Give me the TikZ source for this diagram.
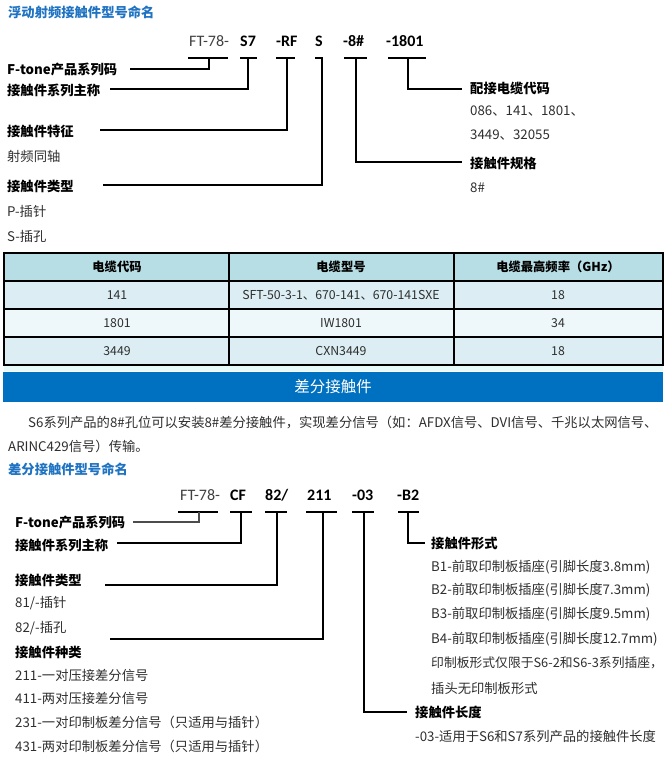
\documentclass[tikz,border=0pt]{standalone}
\usepackage{fontspec}
\setmainfont{Noto Sans CJK SC}
\newfontfamily\codefont{Carlito}
\definecolor{titleblue}{HTML}{1F73C2}
\definecolor{barblue}{HTML}{0070C0}
\definecolor{bodytxt}{HTML}{2E2E2E}
\definecolor{hdrfill}{HTML}{B7DEE4}
\definecolor{rowA}{HTML}{DCEEF3}
\definecolor{rowB}{HTML}{EEF7F9}
\definecolor{strip}{HTML}{E6FAFA}
\tikzset{
  tx/.style={anchor=west, inner sep=0pt, text=bodytxt, font=\fontsize{13.3}{15}\selectfont},
  hd/.style={anchor=west, inner sep=0pt, text=black, font=\fontsize{13.3}{15}\selectfont\bfseries},
  ttl/.style={anchor=west, inner sep=0pt, text=titleblue, font=\fontsize{13.3}{15}\selectfont\bfseries},
  codeA/.style={anchor=base west, inner sep=0pt, text=black!75, font=\codefont\fontsize{16}{18}\selectfont},
  codeB/.style={anchor=base west, inner sep=0pt, text=black, font=\codefont\bfseries\fontsize{16}{18}\selectfont},
  conn/.style={line width=2pt, black},
  connG/.style={line width=2pt, black!70},
  cell/.style={draw=black, line width=1.2pt},
  celltx/.style={inner sep=0pt, text=bodytxt, font=\fontsize{12.3}{14}\selectfont},
  cellhd/.style={inner sep=0pt, text=black, font=\fontsize{12.3}{14}\selectfont\bfseries},
}
\begin{document}
\begin{tikzpicture}[x=1pt,y=-1pt]
\useasboundingbox (0,0) rectangle (670,761);
% ---------- Section 1 ----------
\node[ttl] (t1) at (8,12) {浮动射频接触件型号命名};
\node[codeA] (a0) at (189,46) {FT-78-};
\node[codeB] (a1) at (240,46) {S7};
\node[codeB] (a2) at (276,46) {-RF};
\node[codeB] (a3) at (315,46) {S};
\node[codeB] (a4) at (343,46) {-8\#};
\node[codeB] (a5) at (386,46) {-1801};
% underlines
\coordinate (u0a) at (188,58); \coordinate (u0b) at (228,58); \coordinate (d0) at (209,58); \coordinate (e0) at (130,69);
\coordinate (u1a) at (240,58); \coordinate (u1b) at (257,58); \coordinate (d1) at (248,58); \coordinate (e1) at (110,89);
\coordinate (u2a) at (276,58); \coordinate (u2b) at (295,58); \coordinate (d2) at (287,58); \coordinate (e2) at (100,130);
\coordinate (u3a) at (315,58); \coordinate (u3b) at (323,58); \coordinate (d3) at (322,58); \coordinate (e3) at (103,185);
\coordinate (u4a) at (344,58); \coordinate (u4b) at (367,58); \coordinate (d4) at (356,58); \coordinate (e4) at (462,162);
\coordinate (u5a) at (388,58); \coordinate (u5b) at (426,58); \coordinate (d5) at (408,58); \coordinate (e5) at (462,89);
\foreach \i in {0,...,5}{\draw[conn] (u\i a) -- (u\i b);}
\draw[conn] (d0) |- (e0);
\draw[conn] (d1) |- (e1);
\draw[conn] (d2) |- (e2);
\draw[conn] (d3) |- (e3);
\draw[conn] (d4) |- (e4);
\draw[conn] (d5) |- (e5);
% left labels
\node[hd] (l1) at (7,69) {F-tone产品系列码};
\node[hd] (l2) at (7,90) {接触件系列主称};
\node[hd] (l3) at (7,131) {接触件特征};
\node[tx] (l3a) at (7,156) {射频同轴};
\node[hd] (l4) at (7,186) {接触件类型};
\node[tx] (l4a) at (7,211) {P-插针};
\node[tx] (l4b) at (7,236) {S-插孔};
% right labels
\node[hd] (r1) at (470,88) {配接电缆代码};
\node[tx] (r1a) at (470,111) {086、141、1801、};
\node[tx] (r1b) at (470,135) {3449、32055};
\node[hd] (r2) at (470,163) {接触件规格};
\node[tx] (r2a) at (470,188) {8\#};
% ---------- Table ----------
\fill[strip] (4,365) rectangle (663,371);
\fill[hdrfill] (4,253) rectangle (663,281);
\fill[rowA] (4,281) rectangle (663,309);
\fill[rowB] (4,309) rectangle (663,337);
\fill[rowA] (4,337) rectangle (663,365);
\draw[cell] (4,253) rectangle (663,365);
\draw[cell] (4,281) -- (663,281) (4,309) -- (663,309) (4,337) -- (663,337);
\draw[cell] (229,253) -- (229,365) (454,253) -- (454,365);
\node[cellhd] (h1) at (117,267) {电缆代码};
\node[cellhd] (h2) at (341,267) {电缆型号};
\node[cellhd] (h3) at (558,267) {电缆最高频率（GHz）};
\node[celltx] (c11) at (117,295) {141};
\node[celltx] (c12) at (341,295) {SFT-50-3-1、670-141、670-141SXE};
\node[celltx] (c13) at (558,295) {18};
\node[celltx] (c21) at (117,323) {1801};
\node[celltx] (c22) at (341,323) {IW1801};
\node[celltx] (c23) at (558,323) {34};
\node[celltx] (c31) at (117,351) {3449};
\node[celltx] (c32) at (341,351) {CXN3449};
\node[celltx] (c33) at (558,351) {18};
% ---------- Blue bar ----------
\fill[barblue] (3,372) rectangle (663,402);
\node[inner sep=0pt, text=white, font=\fontsize{15.5}{17}\selectfont] (bar) at (333,387) {差分接触件};
\node[tx] (p1) at (28,423) {S6系列产品的8\#孔位可以安装8\#差分接触件，实现差分信号（如：AFDX信号、DVI信号、千兆以太网信号、};
\node[tx] (p2) at (8,446) {ARINC429信号）传输。};
\node[ttl] (t2) at (8,469) {差分接触件型号命名};
% ---------- Section 2 ----------
\node[codeA] (b0) at (180,500) {FT-78-};
\node[codeB] (b1) at (230,500) {CF};
\node[codeB] (b2) at (265,500) {82/};
\node[codeB] (b3) at (307,500) {211};
\node[codeB] (b4) at (352,500) {-03};
\node[codeB] (b5) at (397,500) {-B2};
\coordinate (v0a) at (178,512); \coordinate (v0b) at (218,512); \coordinate (f0) at (199,512); \coordinate (g0) at (133,522);
\coordinate (v1a) at (230,512); \coordinate (v1b) at (252,512); \coordinate (f1) at (241,512); \coordinate (g1) at (117,543);
\coordinate (v2a) at (265,512); \coordinate (v2b) at (287,512); \coordinate (f2) at (277,512); \coordinate (g2) at (105,585);
\coordinate (v3a) at (306,512); \coordinate (v3b) at (337,512); \coordinate (f3) at (323,512); \coordinate (g3) at (110,639);
\coordinate (v4a) at (352,512); \coordinate (v4b) at (374,512); \coordinate (f4) at (364,512); \coordinate (g4) at (407,712);
\coordinate (v5a) at (398,512); \coordinate (v5b) at (419,512); \coordinate (f5) at (408,512); \coordinate (g5) at (425,543);
\foreach \i in {0,...,5}{\draw[conn] (v\i a) -- (v\i b);}
\draw[connG] (f0) |- (g0);
\draw[conn] (f1) |- (g1);
\draw[conn] (f2) |- (g2);
\draw[conn] (f3) |- (g3);
\draw[conn] (f4) |- (g4);
\draw[conn] (f5) |- (g5);
\node[hd] (m1) at (15,522) {F-tone产品系列码};
\node[hd] (m2) at (15,545) {接触件系列主称};
\node[hd] (m3) at (15,580) {接触件类型};
\node[tx] (m3a) at (15,603) {81/-插针};
\node[tx] (m3b) at (15,628) {82/-插孔};
\node[hd] (m4) at (15,652) {接触件种类};
\node[tx] (m4a) at (15,675) {211-一对压接差分信号};
\node[tx] (m4b) at (15,698) {411-两对压接差分信号};
\node[tx] (m4c) at (15,722) {231-一对印制板差分信号（只适用与插针）};
\node[tx] (m4d) at (15,746) {431-两对印制板差分信号（只适用与插针）};
\node[hd] (n1) at (431,543) {接触件形式};
\node[tx] (n1a) at (431,567) {B1-前取印制板插座(引脚长度3.8mm)};
\node[tx] (n1b) at (431,590) {B2-前取印制板插座(引脚长度7.3mm)};
\node[tx] (n1c) at (431,614) {B3-前取印制板插座(引脚长度9.5mm)};
\node[tx] (n1d) at (431,639) {B4-前取印制板插座(引脚长度12.7mm)};
\node[tx, font=\fontsize{12.8}{15}\selectfont] (n1e) at (431,663) {印制板形式仅限于S6-2和S6-3系列插座，};
\node[tx] (n1f) at (431,688) {插头无印制板形式};
\node[hd] (n2) at (415,712) {接触件长度};
\node[tx] (n2a) at (415,736) {-03-适用于S6和S7系列产品的接触件长度};
\end{tikzpicture}
\end{document}
